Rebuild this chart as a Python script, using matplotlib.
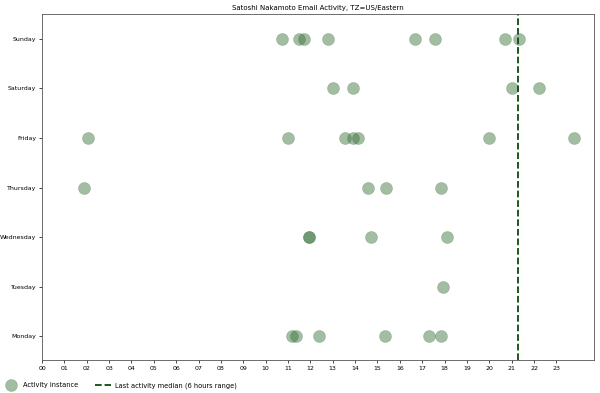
import matplotlib
matplotlib.use('Agg')
import matplotlib.pyplot as plt
import numpy as np

days = ['Monday', 'Tuesday', 'Wednesday', 'Thursday', 'Friday', 'Saturday', 'Sunday']

# hour of day (US/Eastern) for each email, grouped by weekday
activity = {
    'Monday': [11.19, 11.34, 12.40, 15.35, 17.31, 17.84],
    'Tuesday': [17.91],
    'Wednesday': [11.95, 11.95, 14.72, 18.12],
    'Thursday': [1.88, 14.56, 15.36, 17.84],
    'Friday': [2.06, 11.0, 13.55, 13.9, 14.15, 20.0, 23.78],
    'Saturday': [13.02, 13.89, 21.01, 22.22],
    'Sunday': [10.74, 11.49, 11.72, 12.78, 16.66, 17.56, 20.68, 21.31],
}
median_hour = 21.28
hour_labels = ['%02d' % h for h in range(24)]

fig = plt.figure(figsize=(6, 3.93), dpi=100)
ax = fig.add_axes([0.07, 0.084, 0.92, 0.88])

for i, d in enumerate(days):
    hrs = activity[d]
    ax.scatter(hrs, [i] * len(hrs), s=75, color='#346e34', alpha=0.45,
               edgecolors='#346e34', linewidths=0.3,
               label='Activity instance' if i == 0 else None)

ax.axvline(median_hour, color='#0d4a0d', linestyle='--', linewidth=1.3,
           label='Last activity median (6 hours range)')

ax.set_xlim(0, 24.68)
ax.set_ylim(-0.48, 6.5)
ax.set_xticks(range(24))
ax.set_xticklabels(hour_labels)
ax.set_yticks(range(len(days)))
ax.set_yticklabels(days)
ax.tick_params(labelsize=4.5, length=2, width=0.5, pad=2)
for s in ax.spines.values():
    s.set_linewidth(0.6)
    s.set_color('#555555')
ax.set_title('Satoshi Nakamoto Email Activity, TZ=US/Eastern', fontsize=5, pad=3)

ax.legend(loc='upper left', bbox_to_anchor=(-0.082, -0.047), ncol=2, frameon=False,
          fontsize=4.8, columnspacing=2.5, handlelength=2.4, handletextpad=0.6)

fig.savefig('out.png', dpi=100)
